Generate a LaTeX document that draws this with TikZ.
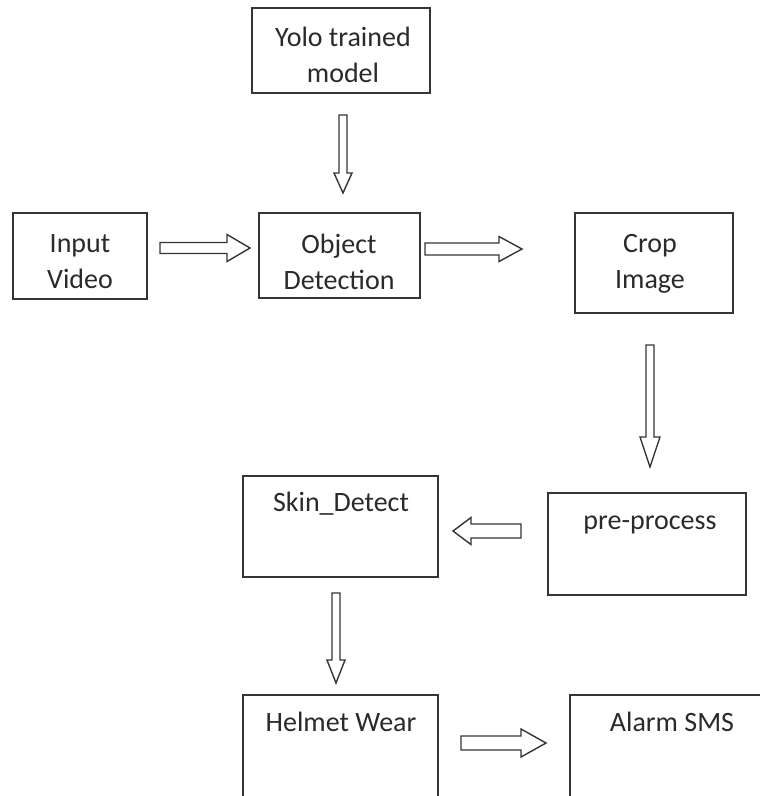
\documentclass[tikz,border=0pt]{standalone}
\usepackage{fontspec}
\setmainfont{Carlito}
\usetikzlibrary{calc}

\definecolor{edge}{HTML}{353535}
\definecolor{ink}{HTML}{2A2A2A}

\tikzset{
  box/.style={draw=edge, line width=1.9pt, fill=white, inner sep=0pt},
  txt/.style={text=ink, font=\fontsize{28}{36}\selectfont, align=center, inner sep=0pt},
  blockarrow/.style={draw=edge, line width=1.4pt, fill=white, line join=miter},
}

% hollow block arrow from coordinate #1 to coordinate #2:
% #3 shaft half-width, #4 head half-width, #5 head length (all in pt)
\newcommand\hollowarrow[5]{%
  \draw[blockarrow] let \p1=(#1), \p2=(#2),
      \n1={atan2(\y2-\y1,\x2-\x1)}, \n2={veclen(\x2-\x1,\y2-\y1)} in
    [shift={(\p1)}, rotate=\n1]
    (0pt,-#3pt) -- (\n2-#5pt,-#3pt) -- (\n2-#5pt,-#4pt) -- (\n2,0pt)
    -- (\n2-#5pt,#4pt) -- (\n2-#5pt,#3pt) -- (0pt,#3pt) -- cycle;}

\begin{document}
\begin{tikzpicture}[x=1pt,y=1pt]
\useasboundingbox (0,0) rectangle (760,-796);
\clip (0,0) rectangle (760,-796);

% boxes
\node[box, minimum width=178pt, minimum height=85pt]  (yolo)   at (341,-50.5) {};
\node[box, minimum width=134pt, minimum height=86pt]  (input)  at (80,-256) {};
\node[box, minimum width=161pt, minimum height=85pt]  (obj)    at (339.5,-255.5) {};
\node[box, minimum width=158pt, minimum height=100pt] (crop)   at (654,-263) {};
\node[box, minimum width=198pt, minimum height=102pt] (pre)    at (647,-544) {};
\node[box, minimum width=195pt, minimum height=101pt] (skin)   at (340.5,-526.5) {};
\node[box, minimum width=195pt, minimum height=120pt] (helmet) at (340.5,-755) {};
\node[box, minimum width=205pt, minimum height=120pt] (alarm)  at (672.5,-755) {};

% labels
\node[txt] (yolo-t)   at (343,-55)  {Yolo trained\\model};
\node[txt] (input-t)  at (80,-262)  {Input\\Video};
\node[txt] (obj-t)    at (339,-262) {Object\\Detection};
\node[txt] (crop-t)   at (650,-264) {Crop\\Image};
\node[txt] (skin-t)   at (341,-504) {Skin\_Detect};
\node[txt] (pre-t)    at (650,-525) {pre-process};
\node[txt] (helmet-t) at (341,-722) {Helmet Wear};
\node[txt] (alarm-t)  at (672,-722) {Alarm SMS};

% arrow end points
\coordinate (a1s) at (343,-115); \coordinate (a1e) at (343,-193);
\coordinate (a2s) at (160,-248); \coordinate (a2e) at (250,-248);
\coordinate (a3s) at (425,-249); \coordinate (a3e) at (522,-249);
\coordinate (a4s) at (650,-345); \coordinate (a4e) at (650,-467);
\coordinate (a5s) at (521,-531); \coordinate (a5e) at (453,-531);
\coordinate (a6s) at (336,-593); \coordinate (a6e) at (336,-683);
\coordinate (a7s) at (461,-743); \coordinate (a7e) at (546,-743);

% arrows
\hollowarrow{a1s}{a1e}{4}{9}{20}
\hollowarrow{a2s}{a2e}{5.5}{13.5}{23}
\hollowarrow{a3s}{a3e}{6}{12.5}{23}
\hollowarrow{a4s}{a4e}{4}{10}{30}
\hollowarrow{a5s}{a5e}{7}{13.5}{18}
\hollowarrow{a6s}{a6e}{4}{9}{23}
\hollowarrow{a7s}{a7e}{7}{14}{25}
\end{tikzpicture}
\end{document}
